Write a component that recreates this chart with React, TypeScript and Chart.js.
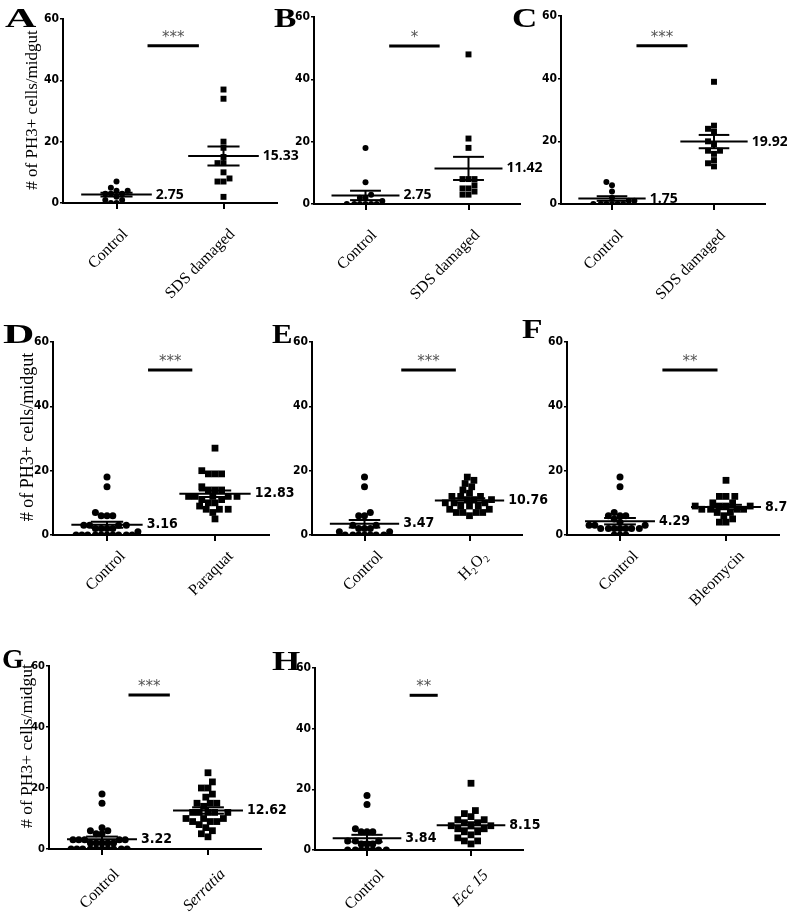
import React, { useEffect, useRef } from 'react';
import { Chart, registerables } from 'chart.js';

Chart.register(...registerables);

// ---------------- DATA ----------------
const panelLetters = ['A', 'B', 'C', 'D', 'E', 'F', 'G', 'H'];
const controlName = 'Control';
const treatmentNames = ['SDS damaged', 'SDS damaged', 'SDS damaged', 'Paraquat', 'H\u2082O\u2082', 'Bleomycin', 'Serratia', 'Ecc 15'];
const treatmentItalic = [false, false, false, false, false, false, true, true];
const significance = ['***', '*', '***', '***', '***', '**', '***', '**'];
const controlMeans = [2.75, 2.75, 1.75, 3.16, 3.47, 4.29, 3.22, 3.84];
const treatmentMeans = [15.33, 11.42, 19.92, 12.83, 10.76, 8.7, 12.62, 8.15];
const yTickValues = [0, 20, 40, 60];
const yAxisTitle = '# of PH3+ cells/midgut';

const controlA = [5, 7, 4, 4, 3, 3, 3, 2, 1, 1, 0, 0];
const sdsA = [37, 34, 20, 18, 15, 13, 13, 10, 8, 7, 7, 2];
const controlB = [18, 7, 3, 2, 2, 1, 0, 0, 0, 0, 0, 0];
const sdsB = [48, 21, 18, 8, 8, 8, 6, 5, 5, 4, 3, 3];
const controlC = [7, 6, 4, 2, 1, 1, 0, 0, 0, 0, 0, 0];
const sdsC = [39, 25, 24, 23, 20, 19, 17, 17, 16, 14, 13, 12];
const controlD = [18, 15, 7, 6, 6, 6, 3, 3, 3, 3, 2, 2, 2, 2, 1, 0, 0, 0, 0, 0, 0, 0, 0, 0, 0];
const paraquatD = [27, 20, 19, 19, 19, 15, 14, 14, 14, 12, 12, 12, 12, 12, 11, 11, 10, 10, 9, 8, 8, 8, 7, 5];
const controlE = [18, 15, 7, 6, 6, 3, 3, 2, 2, 2, 1, 1, 0, 0, 0, 0, 0, 0, 0];
const h2o2E = [18, 17, 16, 15, 14, 13, 12, 12, 12, 11, 11, 11, 10, 10, 10, 9, 9, 9, 8, 8, 7, 7, 7, 6, 7];
const controlF = [18, 15, 7, 6, 6, 6, 5, 4, 3, 3, 3, 2, 2, 2, 2, 2, 2, 2, 0, 0, 0];
const bleomycinF = [17, 12, 12, 12, 10, 10, 9, 9, 9, 9, 8, 8, 8, 8, 7, 7, 6, 5, 4, 4];
const controlG = [18, 15, 7, 6, 6, 5, 5, 3, 3, 3, 3, 3, 2, 2, 2, 2, 2, 0, 0, 0, 0, 0, 0, 0, 0, 0, 0];
const serratiaG = [25, 22, 20, 20, 18, 17, 15, 15, 15, 14, 12, 12, 12, 12, 12, 10, 10, 10, 9, 9, 9, 8, 7, 6, 5, 4];
const controlH = [18, 15, 7, 6, 6, 6, 3, 3, 3, 2, 2, 2, 0, 0, 0, 0, 0, 0, 0];
const eccH = [22, 13, 12, 11, 10, 10, 9, 9, 8, 8, 8, 7, 7, 6, 6, 5, 4, 3, 3, 2];

const controlSeries = [controlA, controlB, controlC, controlD, controlE, controlF, controlG, controlH];
const treatmentSeries = [sdsA, sdsB, sdsC, paraquatD, h2o2E, bleomycinF, serratiaG, eccH];

// ---------------- LAYOUT / STYLE ----------------
const SERIF = '"Liberation Serif", "Times New Roman", Times, serif';
const NARROW = '"Liberation Sans Narrow", "Arial Narrow", "DejaVu Sans Condensed", "Liberation Sans", Arial, sans-serif';
const WIDE_BOLD = '"Open Sans", "Liberation Sans", Arial, sans-serif';

// chart area in page pixels
const areas = [
  { l: 63, t: 19, r: 277, b: 203 },
  { l: 314, t: 17, r: 520, b: 204 },
  { l: 561, t: 16, r: 765, b: 204 },
  { l: 53, t: 342, r: 269, b: 535 },
  { l: 312, t: 342, r: 522, b: 535 },
  { l: 567, t: 342, r: 779, b: 535 },
  { l: 49, t: 666, r: 261, b: 849 },
  { l: 315, t: 668, r: 523, b: 850 },
];
const canvases = [
  { x: 0, y: 0, w: 310, h: 310 },
  { x: 262, y: 0, w: 298, h: 310 },
  { x: 505, y: 0, w: 282, h: 310 },
  { x: 0, y: 310, w: 310, h: 330 },
  { x: 262, y: 310, w: 298, h: 330 },
  { x: 520, y: 310, w: 267, h: 330 },
  { x: 0, y: 640, w: 310, h: 312 },
  { x: 262, y: 640, w: 298, h: 312 },
];
// y tick label font size per panel
const yTickFont = [12, 12, 12, 12, 12, 12, 11, 12];
// x tick label shift: [offset right, extra padding down] per panel
const labelShift = [[9, 12], [9, 12], [9, 12], [16, 2], [16, 2], [16, 2], [15, 6], [15, 6]];
// significance bar: x from, x to (category units), y value
const sigBars = [
  [0.29, 0.77, 51.3], [0.23, 0.72, 50.7], [0.24, 0.74, 50.5],
  [0.38, 0.79, 51.3], [0.35, 0.87, 51.3], [0.40, 0.92, 51.3],
  [0.25, 0.64, 50.5], [0.41, 0.68, 51.0],
];
// letter placement: page x, baseline y, horizontal stretch
const letterPos = [
  [5, 27, 1.55], [274, 27, 1.2], [512, 27, 1.25],
  [3, 343, 1.55], [272, 343, 1.1], [522, 338, 1.2],
  [2, 668, 1.0], [272, 670, 1.3],
];
// y-axis titles: panel index -> center x, center y, font size
const yTitles: Record<number, [number, number, number]> = {
  0: [33, 110, 17],
  3: [28, 437, 18],
  6: [27, 746, 17.5],
};

const Y_SCALE_W = 30;
const X_SCALE_H = 100;
const MEAN_HALF = 0.33;
const SEM_HALF = 0.15;

// dot-plot style horizontal spreading of points (pixel based, deterministic)
function swarm(values: number[], center: number, pxX: number, pxY: number, minD: number) {
  const order = values.map((v, i) => ({ v, i })).sort((a, b) => a.v - b.v);
  const placed: { x: number; y: number }[] = [];
  const out: { x: number; y: number }[] = new Array(values.length);
  const step = minD / 3;
  for (const { v, i } of order) {
    const py = v * pxY;
    let best = 0;
    for (let k = 0; k < 600; k++) {
      const off = (k % 2 === 0 ? 1 : -1) * Math.ceil(k / 2) * step;
      const ok = placed.every((p) => Math.hypot(p.x - off, p.y - py) >= minD);
      if (ok) { best = off; break; }
    }
    placed.push({ x: best, y: py });
    out[i] = { x: center + best / pxX, y: v };
  }
  return out;
}

function sem(values: number[]) {
  const n = values.length;
  const m = values.reduce((a, b) => a + b, 0) / n;
  const v = values.reduce((a, b) => a + (b - m) * (b - m), 0) / (n - 1);
  return Math.sqrt(v) / Math.sqrt(n);
}

function lineDs(pts: { x: number; y: number }[], width = 2) {
  return {
    type: 'line' as const,
    data: pts,
    borderColor: '#000',
    borderWidth: width,
    pointRadius: 0,
    fill: false,
    tension: 0,
    showLine: true,
    borderCapStyle: 'butt' as const,
  };
}

const decorPlugin = {
  id: 'decor',
  afterDraw(chart: any, _args: any, opts: any) {
    const { ctx } = chart;
    const xs = chart.scales.x;
    const ys = chart.scales.y;
    ctx.save();
    // mean value labels
    ctx.fillStyle = '#000';
    ctx.font = opts.labelFont;
    ctx.textAlign = 'left';
    ctx.textBaseline = 'middle';
    opts.means.forEach((m: number, i: number) => {
      ctx.fillText(String(m), xs.getPixelForValue(i + MEAN_HALF) + 4, ys.getPixelForValue(m));
    });
    // significance stars
    const [x0, x1, yb] = opts.sigBar;
    ctx.fillStyle = '#555';
    ctx.font = '15px "DejaVu Sans", sans-serif';
    ctx.textAlign = 'center';
    ctx.textBaseline = 'alphabetic';
    ctx.fillText(opts.sig, (xs.getPixelForValue(x0) + xs.getPixelForValue(x1)) / 2, ys.getPixelForValue(yb) - 4);
    // panel letter
    const [lx, ly, sx] = opts.letterPos;
    ctx.fillStyle = '#000';
    ctx.font = 'bold 28px ' + SERIF;
    ctx.textAlign = 'left';
    ctx.textBaseline = 'alphabetic';
    ctx.save();
    ctx.translate(lx - opts.origin.x, ly - opts.origin.y);
    ctx.scale(sx, 1);
    ctx.fillText(opts.letter, 0, 0);
    ctx.restore();
    // y-axis title
    if (opts.yTitle) {
      const [tx, ty, fs] = opts.yTitle;
      ctx.save();
      ctx.translate(tx - opts.origin.x, ty - opts.origin.y);
      ctx.rotate(-Math.PI / 2);
      ctx.font = fs + 'px ' + SERIF;
      ctx.textAlign = 'center';
      ctx.textBaseline = 'middle';
      ctx.fillText(yAxisTitle, 0, 0);
      ctx.restore();
    }
    ctx.restore();
  },
};

function buildConfig(i: number): any {
  const area = areas[i];
  const cv = canvases[i];
  const topRow = i < 3;
  const ctrl = controlSeries[i];
  const trt = treatmentSeries[i];
  const means = [controlMeans[i], treatmentMeans[i]];
  const sems = [sem(ctrl), sem(trt)];
  const sb = sigBars[i];
  const pxX = (area.r - area.l) / 2;
  const pxY = (area.b - area.t) / 60;
  const ctrlD = topRow ? 5.6 : 5.8;
  const trtD = topRow ? 6.0 : 6.6;

  const datasets: any[] = [];
  means.forEach((m, c) => {
    datasets.push(lineDs([{ x: c - MEAN_HALF, y: m }, { x: c + MEAN_HALF, y: m }]));
    datasets.push(lineDs([{ x: c - SEM_HALF, y: m + sems[c] }, { x: c + SEM_HALF, y: m + sems[c] }]));
    datasets.push(lineDs([{ x: c - SEM_HALF, y: m - sems[c] }, { x: c + SEM_HALF, y: m - sems[c] }]));
    datasets.push(lineDs([{ x: c, y: m - sems[c] }, { x: c, y: m + sems[c] }]));
  });
  datasets.push(lineDs([{ x: sb[0], y: sb[2] }, { x: sb[1], y: sb[2] }], 3));
  datasets.push({
    type: 'scatter',
    data: swarm(ctrl, 0, pxX, pxY, ctrlD),
    pointStyle: 'circle',
    pointRadius: topRow ? 3 : 3.5,
    backgroundColor: '#000',
    borderColor: '#000',
    borderWidth: 0,
  });
  datasets.push({
    type: 'scatter',
    data: swarm(trt, 1, pxX, pxY, trtD),
    pointStyle: 'rect',
    pointRadius: topRow ? 4.2 : 4.8,
    backgroundColor: '#000',
    borderColor: '#000',
    borderWidth: 0,
  });

  const italic = treatmentItalic[i];
  const tName = treatmentNames[i];
  const [lOff, lPad] = labelShift[i];

  return {
    type: 'scatter',
    data: { datasets },
    options: {
      responsive: false,
      animation: false,
      devicePixelRatio: 1,
      events: [],
      layout: {
        padding: {
          left: area.l - cv.x - Y_SCALE_W,
          top: area.t - cv.y,
          right: cv.x + cv.w - area.r,
          bottom: Math.max(0, cv.h - (area.b - cv.y) - X_SCALE_H),
        },
      },
      plugins: {
        legend: { display: false },
        tooltip: { enabled: false },
        decor: {
          means,
          labelFont: topRow ? 'bold 14px ' + WIDE_BOLD : 'bold 14px ' + NARROW,
          sig: significance[i],
          sigBar: sb,
          letter: panelLetters[i],
          letterPos: letterPos[i],
          origin: { x: cv.x, y: cv.y },
          yTitle: yTitles[i] || null,
        },
      },
      scales: {
        x: {
          type: 'linear',
          min: -0.5,
          max: 1.5,
          afterFit: (s: any) => { s.height = X_SCALE_H; },
          afterBuildTicks: (s: any) => { s.ticks = [{ value: 0 }, { value: 1 }]; },
          grid: { display: true, drawOnChartArea: false, drawTicks: true, tickLength: 6, color: '#000', lineWidth: 2 },
          border: { display: true, color: '#000', width: 2 },
          ticks: {
            autoSkip: false,
            minRotation: 45,
            maxRotation: 45,
            padding: 4 + lPad,
            labelOffset: lOff,
            color: '#000',
            font: (c: any) => ({ family: SERIF, size: 16, style: c.index === 1 && italic ? 'italic' : 'normal' }),
            callback: (_v: any, idx: number) => (idx === 0 ? controlName : tName),
          },
        },
        y: {
          type: 'linear',
          min: 0,
          max: 60,
          afterFit: (s: any) => { s.width = Y_SCALE_W; },
          afterBuildTicks: (s: any) => { s.ticks = yTickValues.map((v) => ({ value: v })); },
          grid: { display: true, drawOnChartArea: false, drawTicks: true, tickLength: 3, color: '#000', lineWidth: 1.5 },
          border: { display: true, color: '#000', width: 2 },
          ticks: {
            padding: 1,
            color: '#000',
            font: { family: NARROW, size: yTickFont[i], weight: 'bold' },
          },
        },
      },
    },
    plugins: [decorPlugin],
  };
}

function Panel({ index }: { index: number }) {
  const ref = useRef<HTMLCanvasElement | null>(null);
  const cv = canvases[index];
  useEffect(() => {
    const chart = new Chart(ref.current as HTMLCanvasElement, buildConfig(index));
    return () => chart.destroy();
  }, [index]);
  return (
    <canvas
      ref={ref}
      width={cv.w}
      height={cv.h}
      style={{ position: 'absolute', left: cv.x, top: cv.y, width: cv.w, height: cv.h }}
    />
  );
}

export default function App() {
  return (
    <div style={{ position: 'absolute', left: 0, top: 0, width: 787, height: 917, background: '#fff', overflow: 'hidden' }}>
      {panelLetters.map((_, i) => (
        <Panel key={i} index={i} />
      ))}
    </div>
  );
}
